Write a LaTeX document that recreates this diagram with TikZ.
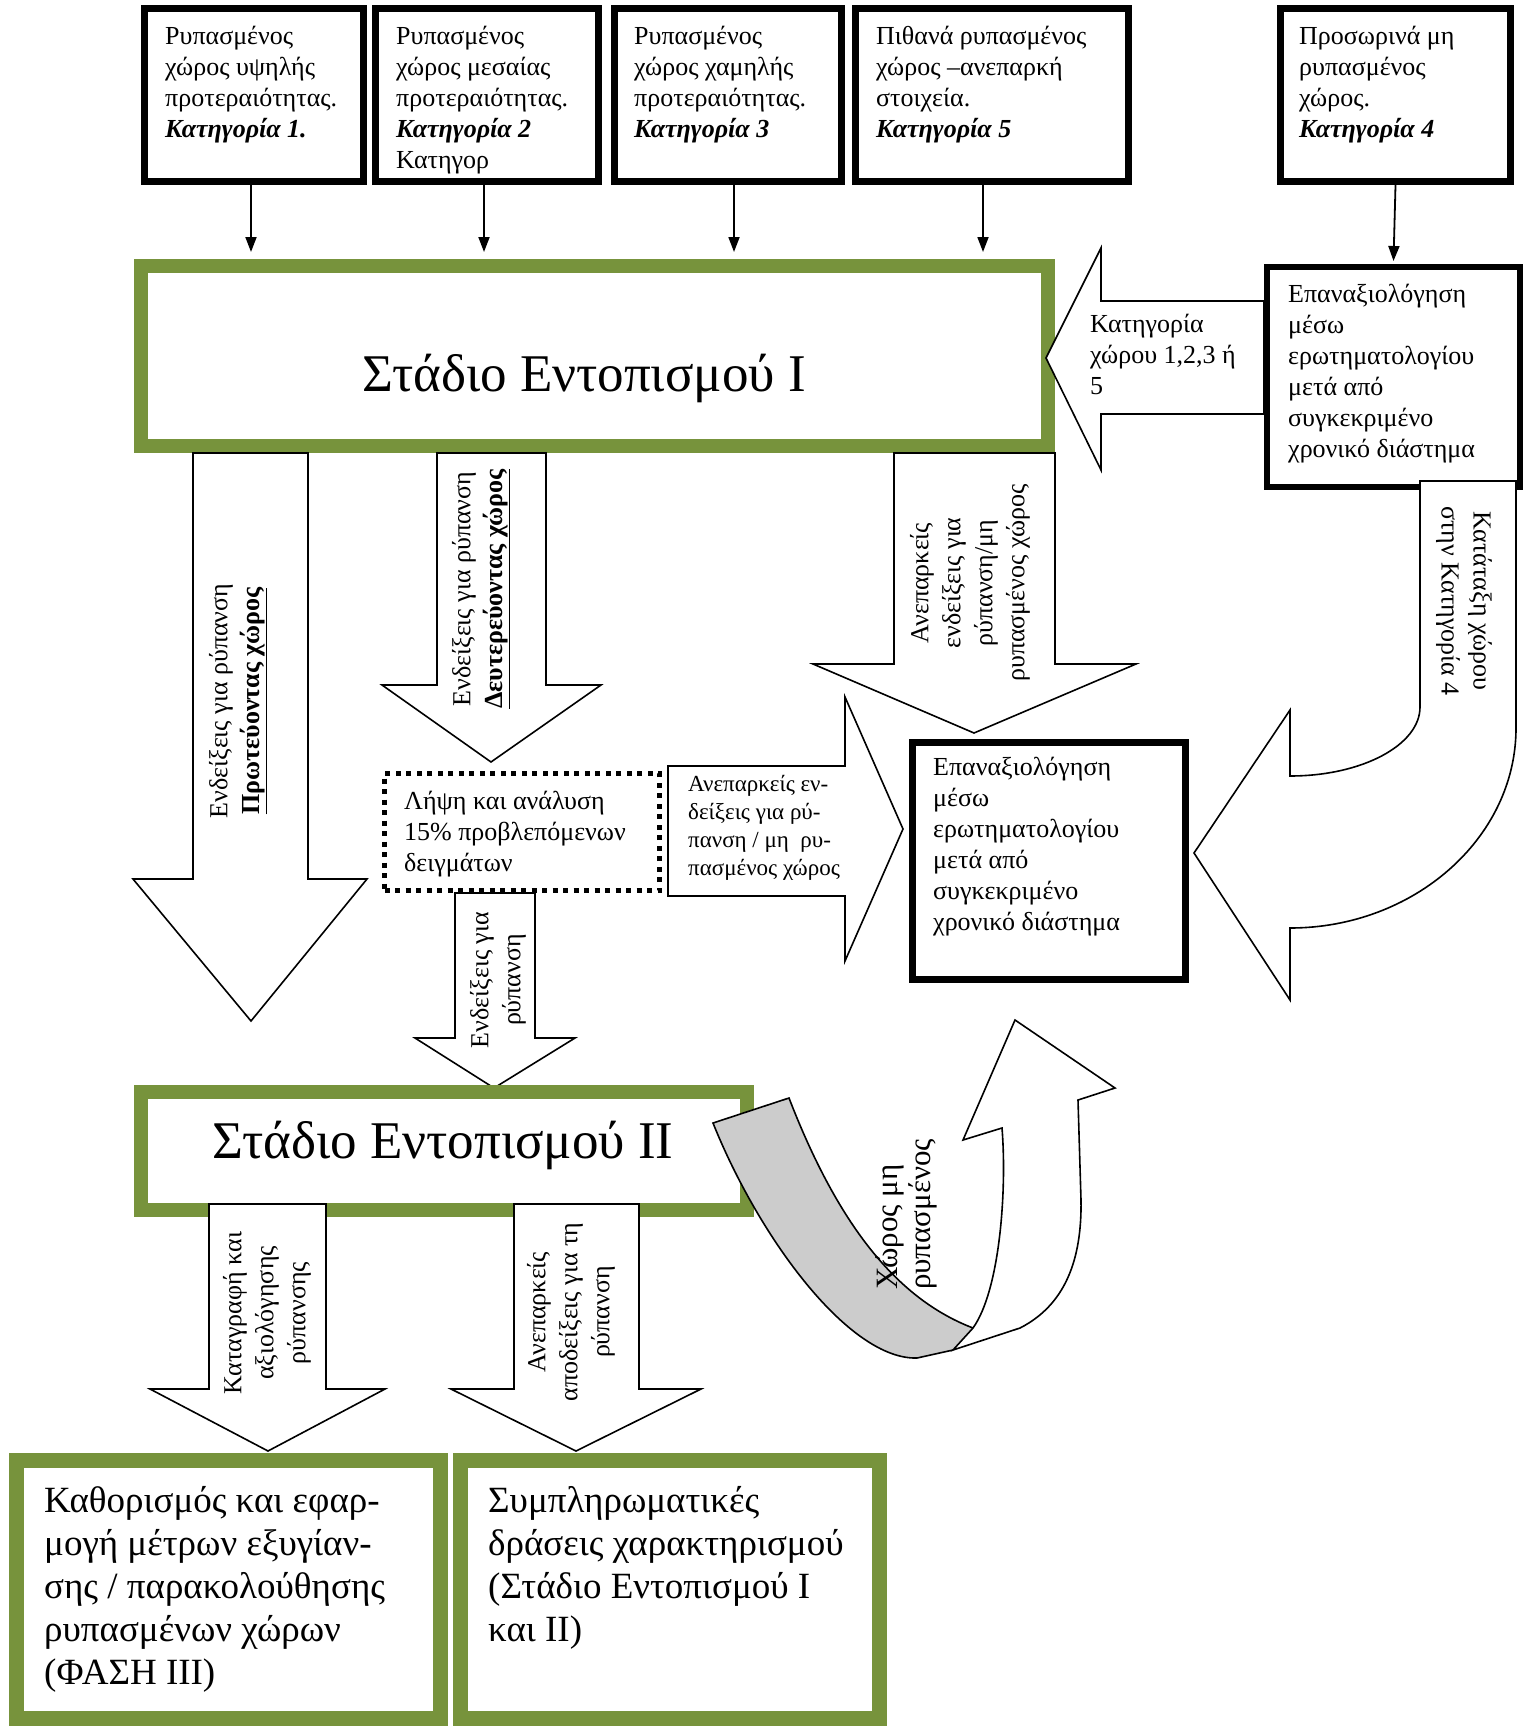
\documentclass[tikz,border=0pt]{standalone}
\usepackage{fontspec}
\setmainfont{Liberation Serif}
\usetikzlibrary{arrows.meta}
\definecolor{stagegreen}{RGB}{119,147,60}
\definecolor{ribbongray}{RGB}{204,204,204}

\begin{document}
\begin{tikzpicture}[x=1pt,y=-1pt,
  catbox/.style={draw=black, line width=7pt, fill=white, inner sep=0pt},
  stagebox/.style={draw=stagegreen, line width=14pt, fill=white, inner sep=0pt},
  finalbox/.style={draw=stagegreen, line width=15pt, fill=white, inner sep=0pt},
  dotbox/.style={draw=black, line width=5pt, dash pattern=on 5pt off 5.5pt, fill=white, inner sep=0pt},
  blockarrow/.style={draw=black, line width=1.6pt, fill=white, line join=miter},
  feed/.style={line width=1.8pt, -{Triangle[width=11pt,length=15pt]}},
  txt/.style={font=\fontsize{26}{31}\selectfont, align=left, inner sep=0pt, anchor=north west},
  smalltxt/.style={font=\fontsize{23}{28}\selectfont, align=left, inner sep=0pt, anchor=north west},
  bigtxt/.style={font=\fontsize{37}{43}\selectfont, align=left, inner sep=0pt, anchor=north west},
  stagetxt/.style={font=\fontsize{53}{60}\selectfont, inner sep=0pt},
  rtxt/.style={font=\fontsize{26}{32}\selectfont, align=center, inner sep=0pt},
]
\useasboundingbox (0,0) rectangle (1526,1726);

% ---- category boxes along the top ----
\node[catbox, minimum width=219pt, minimum height=173pt] (c1) at (254,95) {};
\node[catbox, minimum width=223pt, minimum height=173pt] (c2) at (487,95) {};
\node[catbox, minimum width=227pt, minimum height=173pt] (c3) at (728,95) {};
\node[catbox, minimum width=273pt, minimum height=173pt] (c5) at (992,95) {};
\node[catbox, minimum width=230pt, minimum height=173pt] (c4) at (1395.5,95) {};

\node[txt] (c1t) at (165,26) {Ρυπασμένος\\χώρος υψηλής\\προτεραιότητας.\\\textbf{\textit{Κατηγορία 1.}}};
\node[txt] (c2t) at (396,26) {Ρυπασμένος\\χώρος μεσαίας\\προτεραιότητας.\\\textbf{\textit{Κατηγορία 2}}\\Κατηγορ};
\node[txt] (c3t) at (634,26) {Ρυπασμένος\\χώρος χαμηλής\\προτεραιότητας.\\\textbf{\textit{Κατηγορία 3}}};
\node[txt] (c5t) at (876,26) {Πιθανά ρυπασμένος\\χώρος –ανεπαρκή\\στοιχεία.\\\textbf{\textit{Κατηγορία 5}}};
\node[txt] (c4t) at (1299,26) {Προσωρινά μη\\ρυπασμένος\\χώρος.\\\textbf{\textit{Κατηγορία 4}}};

% ---- stage I ----
\node[stagebox, minimum width=907pt, minimum height=180pt] (st1) at (594.5,356) {};
\node[stagetxt] (st1t) at (584,378) {Στάδιο Εντοπισμού I};

% ---- re-evaluation box, top right ----
\node[catbox, line width=6pt, minimum width=253pt, minimum height=220pt] (epR) at (1393.5,377) {};

\draw[feed] ([xshift=-3pt]c1.south) -- ([xshift=-3pt,yshift=7pt]c1.south |- st1.north);
\draw[feed] ([xshift=-3pt]c2.south) -- ([xshift=-3pt,yshift=7pt]c2.south |- st1.north);
\draw[feed] ([xshift=6pt]c3.south) -- ([xshift=6pt,yshift=7pt]c3.south |- st1.north);
\draw[feed] ([xshift=-9pt]c5.south) -- ([xshift=-9pt,yshift=7pt]c5.south |- st1.north);
\draw[feed] (c4.south) -- ([yshift=3pt]epR.north);

% ---- block arrow back into stage I ----
\draw[blockarrow] (1264,301) -- (1101,301) -- (1101,248) -- (1046,358) -- (1101,470) -- (1101,414) -- (1264,414) -- cycle;
\node[catbox, line width=6pt, minimum width=253pt, minimum height=220pt] (epR2) at (1393.5,377) {};
\node[txt] (epRt) at (1288,284) {Επαναξιολόγηση\\μέσω\\ερωτηματολογίου\\μετά από\\συγκεκριμένο\\χρονικό διάστημα};
\node[txt] (katt) at (1090,314) {Κατηγορία\\χώρου 1,2,3 ή\\5};

% ---- block arrows below stage I ----
\draw[blockarrow] (193,453) -- (193,879) -- (133,879) -- (251,1021) -- (367,879) -- (308,879) -- (308,453) -- cycle;
\draw[blockarrow] (437,453) -- (437,685) -- (382,685) -- (491,762) -- (601,685) -- (546,685) -- (546,453) -- cycle;
\draw[blockarrow] (894,453) -- (894,664) -- (813,664) -- (974,733) -- (1136,664) -- (1055,664) -- (1055,453) -- cycle;

\node[rtxt, rotate=90] (a1t) at (238,701) {Ενδείξεις για ρύπανση\\\underline{\textbf{Πρωτεύοντας χώρος}}};
\node[rtxt, rotate=90] (a2t) at (481,589) {Ενδείξεις για ρύπανση\\\underline{\textbf{Δευτερεύοντας χώρος}}};
\node[rtxt, rotate=90] (a3t) at (970,583) {Ανεπαρκείς\\ενδείξεις για\\ρύπανση/μη\\ρυπασμένος χώρος};

% ---- sampling box ----
\node[dotbox, minimum width=275pt, minimum height=117pt] (smp) at (522,832) {};
\node[txt] (smpt) at (404,791) {Λήψη και ανάλυση\\15\% προβλεπόμενων\\δειγμάτων};

\draw[blockarrow] (668,766) -- (845,766) -- (845,697) -- (903,829) -- (845,961) -- (845,896) -- (668,896) -- cycle;
\node[smalltxt] (rat) at (688,775) {Ανεπαρκείς εν-\\δείξεις για ρύ-\\πανση / μη\ \ ρυ-\\πασμένος χώρος};

\draw[blockarrow] (455,893) -- (455,1038) -- (415,1038) -- (494,1088) -- (575,1038) -- (535,1038) -- (535,893) -- cycle;
\node[rtxt, rotate=90] (a4t) at (498,980) {Ενδείξεις για\\ρύπανση};

% ---- central re-evaluation box ----
\node[catbox, minimum width=273pt, minimum height=237pt] (epM) at (1049,861) {};
\node[txt] (epMt) at (933,757) {Επαναξιολόγηση\\μέσω\\ερωτηματολογίου\\μετά από\\συγκεκριμένο\\χρονικό διάστημα};

% ---- U-turn arrow into the central box ----
\draw[blockarrow] (1420,481) -- (1420,707) .. controls (1420,745) and (1362,776) .. (1290,776)
  -- (1290,710) -- (1194,853) -- (1290,1000) -- (1290,928)
  .. controls (1414,928) and (1516,838) .. (1516,728) -- (1516,481) -- cycle;
\node[rtxt, rotate=-90] (ut) at (1464,601) {Κατάταξη χώρου\\στην Κατηγορία 4};

% ---- stage II ----
\node[stagebox, minimum width=606pt, minimum height=118pt] (st2) at (444,1151) {};
\node[stagetxt] (st2t) at (443,1145) {Στάδιο Εντοπισμού II};

% ---- ribbon arrow back up ----
\fill[ribbongray] (713,1123) .. controls (760,1240) and (850,1360) .. (917,1358) -- (953,1350)
  -- (973,1328) .. controls (900,1300) and (840,1230) .. (789,1098) -- cycle;
\draw[blockarrow] (953,1350) -- (1020,1328) .. controls (1065,1305) and (1082,1260) .. (1081,1200)
  -- (1078,1100) -- (1115,1088) -- (1015,1020) -- (963,1140) -- (1002,1128)
  .. controls (1007,1190) and (1000,1290) .. (973,1328) -- cycle;
\draw[line width=1.6pt, line join=miter] (953,1350) -- (917,1358) .. controls (850,1360) and (760,1240) .. (713,1123)
  -- (789,1098) .. controls (840,1230) and (900,1300) .. (973,1328);
\node[font=\fontsize{31}{33}\selectfont, inner sep=0pt, rotate=90, align=left, anchor=west] (rbt) at (906,1290) {Χώρος μη\\ρυπασμένος};

% ---- arrows below stage II ----
\draw[blockarrow] (209,1204) -- (209,1389) -- (150,1389) -- (268,1451) -- (385,1389) -- (326,1389) -- (326,1204) -- cycle;
\draw[blockarrow] (514,1204) -- (514,1389) -- (451,1389) -- (576,1451) -- (701,1389) -- (639,1389) -- (639,1204) -- cycle;
\node[rtxt, rotate=90] (a5t) at (267,1313) {Καταγραφή και\\αξιολόγησης\\ρύπανσης};
\node[rtxt, rotate=90] (a6t) at (571,1312) {Ανεπαρκείς\\αποδείξεις για τη\\ρύπανση};

% ---- final boxes ----
\node[finalbox, minimum width=424pt, minimum height=258pt] (fL) at (228.5,1589.5) {};
\node[finalbox, minimum width=419pt, minimum height=258pt] (fR) at (670,1589.5) {};
\node[bigtxt] (fLt) at (44,1486) {Καθορισμός και εφαρ-\\μογή μέτρων εξυγίαν-\\σης / παρακολούθησης\\ρυπασμένων χώρων\\(ΦΑΣΗ ΙΙΙ)};
\node[bigtxt] (fRt) at (488,1486) {Συμπληρωματικές\\δράσεις χαρακτηρισμού\\(Στάδιο Εντοπισμού Ι\\και ΙΙ)};
\end{tikzpicture}
\end{document}
